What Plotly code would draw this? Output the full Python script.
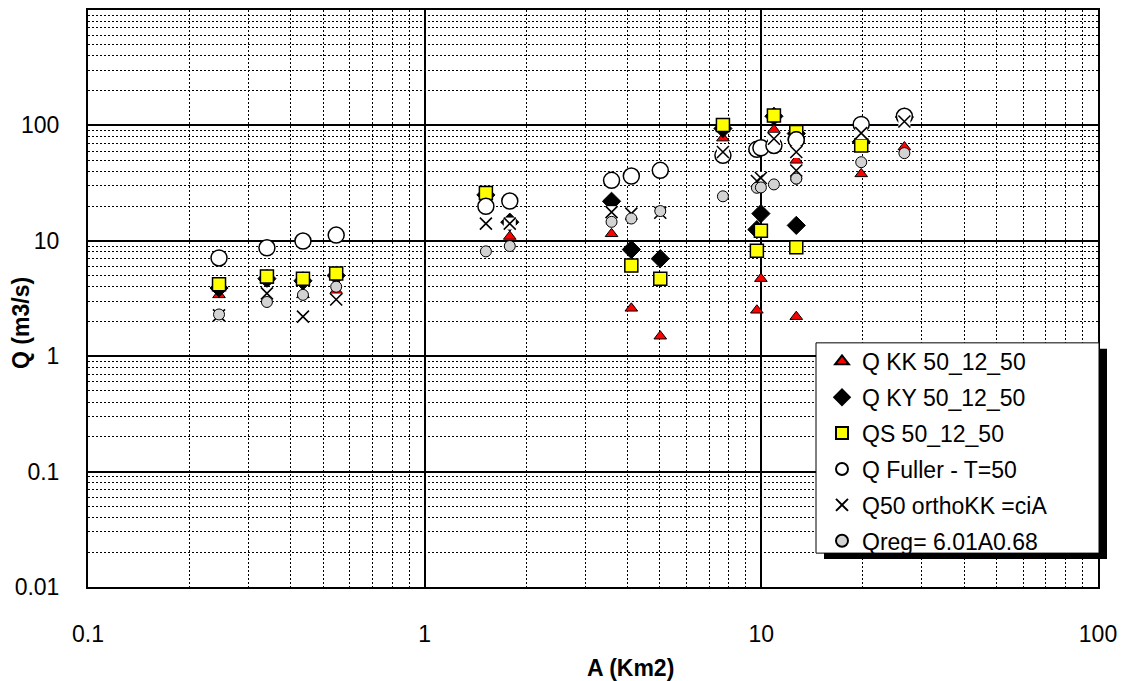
import plotly.graph_objects as go

# ---- data ----
area_km2 = [0.245, 0.34, 0.435, 0.546, 1.52, 1.79, 3.59, 4.11, 5.01, 7.69,
            9.70, 9.97, 10.9, 12.7, 12.7, 19.8, 26.6]
q_kk = [3.4, 4.5, 3.4, 3.7, 24, 10.9, 11.5, 2.6, 1.49, 77.6,
        2.5, 4.7, 91.8, 49.8, 2.2, 38, 65]
q_ky = [3.9, 4.7, 4.5, 5.0, 25, 14.5, 22, 8.4, 7.0, 94,
        12.5, 17.2, 120, 85, 13.6, 72, 118]
q_s = [4.2, 4.9, 4.7, 5.2, 25.9, None, None, 6.1, 4.7, 101,
       8.2, 12.2, 122, 87.5, 8.8, 67, None]
q_fuller = [7.1, 8.7, 9.95, 11.2, 19.9, 22.1, 33.4, 36.4, 40.8, 55,
            62, 64, 67, 75, 75, 102, 120]
q_ortho = [2.26, 3.5, 2.2, 3.1, 14.1, 14.1, 17.7, 17.2, 17.5, 58.8,
           33, 35, 76.6, 58.8, 40.7, 85.7, 108]
q_reg = [2.3, 2.95, 3.4, 4.0, 8.1, 9.0, 14.6, 15.6, 18.1, 24.3,
         28.8, 29, 30.8, 34.6, 34.6, 48, 57.5]

series_names = ["Q KK 50_12_50", "Q KY 50_12_50", "QS 50_12_50",
                "Q Fuller - T=50", "Q50 orthoKK =ciA", "Qreg= 6.01A0.68"]

x_ticks = [0.1, 1, 10, 100]
x_ticktext = ["0.1", "1", "10", "100"]
y_ticks = [0.01, 0.1, 1, 10, 100]
y_ticktext = ["0.01", "0.1", "1", "10", "100"]

FONT = "Liberation Sans, Arial, sans-serif"

fig = go.Figure()


def add(name, y, symbol, size, color, lc, lw, showlegend=True):
    fig.add_trace(go.Scatter(
        x=area_km2, y=y, mode="markers", name=name,
        legendgroup=name if showlegend else "hidden_" + name,
        showlegend=showlegend,
        marker=dict(symbol=symbol, size=size, color=color,
                    line=dict(color=lc, width=lw)),
        hoverinfo="x+y+name"))


add(series_names[0], q_kk, "triangle-up", 11, "#FF0000", "black", 1)
add(series_names[1], q_ky, "diamond", 14, "black", "black", 1)
add(series_names[2], q_s, "square", 13, "#FFFF00", "black", 1.5)
add(series_names[3], q_fuller, "circle", 16, "white", "black", 1.5)
# white background box of the Excel-style "x" marker
add("box", q_ortho, "square", 12, "white", "white", 0, showlegend=False)
add(series_names[4], q_ortho, "x-thin", 12, "black", "black", 1.6)
add(series_names[5], q_reg, "circle", 11, "#D3D3D3", "black", 1)

x_minor = [k * 10 ** e for e in (-1, 0, 1) for k in range(2, 10)]
y_minor = [k * 10 ** e for e in (-2, -1, 0, 1, 2) for k in range(2, 10)]

common_axis = dict(
    showline=True, mirror=True, linecolor="black", linewidth=2,
    showgrid=True, gridcolor="black", gridwidth=1.5,
    ticks="", zeroline=False,
    tickfont=dict(family=FONT, size=23, color="black"),
)

fig.update_xaxes(type="log", range=[-1, 2], tickvals=x_ticks, ticktext=x_ticktext,
                 ticklabelstandoff=25,
                 minor=dict(tickvals=x_minor, showgrid=True, gridcolor="black",
                            gridwidth=1, griddash="2px,2px", ticks=""),
                 **common_axis)
fig.update_yaxes(type="log", range=[-2, 3], tickvals=y_ticks, ticktext=y_ticktext,
                 ticklabelstandoff=22,
                 minor=dict(tickvals=y_minor, showgrid=True, gridcolor="black",
                            gridwidth=1, griddash="2px,2px", ticks=""),
                 **common_axis)

L, R, T, B = 88, 33, 8, 94
W, H = 1131, 681
pw, ph = W - L - R, H - T - B


def px_x(p):
    return (p - L) / pw


def px_y(p):
    return (H - B - p) / ph


# axis titles
fig.add_annotation(text="<b>A (Km2)</b>", x=px_x(630), y=px_y(668), xref="paper", yref="paper",
                   xanchor="center", yanchor="middle",
                   showarrow=False, font=dict(family=FONT, size=23, color="black"))
fig.add_annotation(text="<b>Q (m3/s)</b>", x=px_x(21), y=px_y(322), xref="paper", yref="paper",
                   xanchor="center", yanchor="middle",
                   textangle=-90, showarrow=False, font=dict(family=FONT, size=23, color="black"))

# legend frame with drop shadow
fig.add_shape(type="rect", xref="paper", yref="paper",
              x0=px_x(824), x1=px_x(1107), y0=px_y(559), y1=px_y(348),
              fillcolor="black", line=dict(width=0), layer="above")
fig.add_shape(type="rect", xref="paper", yref="paper",
              x0=px_x(816), x1=px_x(1099), y0=px_y(553), y1=px_y(342),
              fillcolor="white", line=dict(color="black", width=1), layer="above")

fig.update_layout(
    width=W, height=H,
    margin=dict(l=L, r=R, t=T, b=B),
    paper_bgcolor="white", plot_bgcolor="white",
    font=dict(family=FONT, color="black"),
    legend=dict(x=px_x(822), y=px_y(339), xanchor="left", yanchor="top",
                bgcolor="rgba(0,0,0,0)", borderwidth=0,
                font=dict(family=FONT, size=23, color="black"),
                tracegroupgap=3, itemsizing="constant"),
    showlegend=True,
)

fig.write_html("out.html")
